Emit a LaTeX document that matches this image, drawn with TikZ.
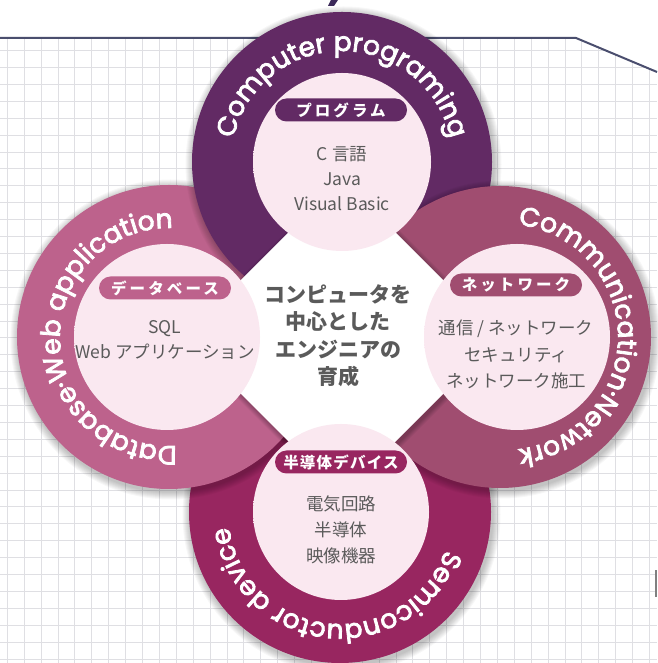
\documentclass[tikz,border=0pt]{standalone}
\usepackage{fontspec}
\setmainfont{Noto Sans CJK JP}
\newfontfamily\jpfont{Noto Sans CJK JP}
\newfontfamily\ringfont{Poppins}[FakeBold=3]
\usetikzlibrary{decorations.text}
\definecolor{ctop}{HTML}{622A64}
\definecolor{cleft}{HTML}{BD628C}
\definecolor{cright}{HTML}{A04D70}
\definecolor{cbot}{HTML}{982660}
\definecolor{cinner}{HTML}{FAE8F0}
\definecolor{cinnerrim}{HTML}{CDB6C3}
\colorlet{cinnermid}{cinner!60!cinnerrim}
\definecolor{cgrid}{HTML}{DFDFE3}
\definecolor{cline}{HTML}{4A4E6E}
\definecolor{ctext}{HTML}{5A5A5A}
\definecolor{ctitle}{HTML}{3C2A5A}
\pgfdeclareradialshading{innerglow}{\pgfpoint{5bp}{-6bp}}{color(0bp)=(cinner); color(37bp)=(cinner); color(46bp)=(cinnermid); color(52bp)=(cinnerrim); color(60bp)=(cinnerrim)}
\newcommand\ringfnt{\ringfont\fontsize{26.5}{26.5}\selectfont\color{white}}
\newcommand\pillfnt{\jpfont\bfseries\fontsize{15.5}{15.5}\selectfont\addfontfeature{LetterSpace=20}}
\newcommand\pillfntb{\jpfont\bfseries\fontsize{15.5}{15.5}\selectfont\addfontfeature{LetterSpace=8}}
\newcommand\innerfnt{\jpfont\fontsize{17.5}{25}\selectfont}
\newcommand\centerfnt{\jpfont\bfseries\fontsize{21}{27.5}\selectfont}
\newcommand\softshadow[3]{%
  \foreach \k in {1,...,8}{\fill[black, opacity=0.03] (#1+1.5,#2-2.5) circle[radius={(#3+9-\k)*1pt}];}}
\begin{document}
\begin{tikzpicture}[x=1pt,y=1pt,
  gridline/.style={draw=cgrid, line width=1pt},
  pill/.style={rounded corners=11.5pt, minimum width=132pt, minimum height=23pt, inner sep=0pt, text=white, font=\pillfnt},
  innertext/.style={align=center, text=ctext, font=\innerfnt, inner sep=0pt},
  centertext/.style={align=center, text=ctext, font=\centerfnt, inner sep=0pt},
  ringtext/.style={decorate, decoration={text along path, text align=center, text={|\ringfnt|#1}}},
  innerdisc/.style={shading=innerglow}
]
\useasboundingbox (0,0) rectangle (657,663);
\fill[white] (0,0) rectangle (657,663);
% grid
\begin{scope}
\clip (0,0) -- (0,625) -- (576,625) -- (657,591) -- (657,0) -- cycle;
\foreach \i in {0,...,38} \draw[gridline] ({7.3+16.9*\i},0) -- ++(0,663);
\foreach \j in {0,...,39} \draw[gridline] (0,{663-16.9*\j}) -- ++(657,0);
\end{scope}
\draw[cline, line width=2pt] (0,625) -- (576,625) -- (657,591);
\fill[ctitle] (331,663) -- (338,663) -- (334,657) -- (328,657) -- cycle;
\fill[gray] (655,66) rectangle (657,93);
% centres
\coordinate (cb) at (340,151);
\coordinate (cl) at (169,326);
\coordinate (ct) at (342,501);
\coordinate (cr) at (500,326);
\coordinate (ib) at (341,151);
\coordinate (il) at (167,326);
\coordinate (it) at (342,501);
\coordinate (ir) at (517,326);
\coordinate (tb) at (340,151);
\coordinate (tl) at (169,326);
\coordinate (tt) at (342,501);
\coordinate (tr) at (505,326);
% bottom ring
\softshadow{340}{151}{151}
\fill[cbot] (cb) circle[radius=151pt];
\path[ringtext={Semiconductor device}] ([shift={(19:112pt)}]tb) arc[start angle=19, end angle=-211, radius=112pt];
% left ring
\softshadow{169}{326}{152}
\fill[cleft] (cl) circle[radius=152pt];
\path[ringtext={Database·Web application}] ([shift={(296:109pt)}]tl) arc[start angle=296, end angle=66, radius=109pt];
% top ring
\softshadow{342}{501}{150}
\fill[ctop] (ct) circle[radius=150pt];
\path[ringtext={Computer programing}] ([shift={(205:111pt)}]tt) arc[start angle=205, end angle=-25, radius=111pt];
% right ring
\softshadow{500}{326}{151}
\fill[cright] (cr) circle[radius=151pt];
\path[ringtext={Communication·Network}] ([shift={(115:113pt)}]tr) arc[start angle=115, end angle=-115, radius=113pt];
% centre diamond
\foreach \k in {1,...,7}{\fill[black, opacity=0.035] (343.5,323.5) ++({158+8-\k},0) -- ++({-(158+8-\k)},{158+8-\k}) -- ++({-(158+8-\k)},{-(158+8-\k)}) -- ++({158+8-\k},{-(158+8-\k)}) -- cycle;}
\fill[white] (500,326) -- (342,484) -- (184,326) -- (342,168) -- cycle;
% inner discs
\shade[innerdisc] (ib) circle[radius=88pt];
\shade[innerdisc] (il) circle[radius=93pt];
\shade[innerdisc] (it) circle[radius=89pt];
\shade[innerdisc] (ir) circle[radius=93pt];
% labels
\node[pill, fill=ctop] (ptop) at (341,553) {プログラム};
\node[pill, fill=cleft] (pleft) at (165,375) {データベース};
\node[pill, fill=cright] (pright) at (516,378) {ネットワーク};
\node[pill, fill=cbot, font=\pillfntb] (pbot) at (341,201) {半導体デバイス};
\node[innertext] (ttop) at (342,484.5) {C 言語\\Java\\Visual Basic};
\node[innertext] (tleft) at (165,323) {SQL\\Web アプリケーション};
\node[innertext, font=\jpfont\fontsize{17.5}{26.5}\selectfont] (tright) at (516,308.5) {通信 / ネットワーク\\セキュリティ\\ネットワーク施工};
\node[innertext, font=\jpfont\fontsize{17.5}{26}\selectfont] (tbot) at (341,133.5) {電気回路\\半導体\\映像機器};
\node[centertext] (tctr) at (338,327.5) {コンピュータを\\中心とした\\エンジニアの\\育成};
\end{tikzpicture}
\end{document}
